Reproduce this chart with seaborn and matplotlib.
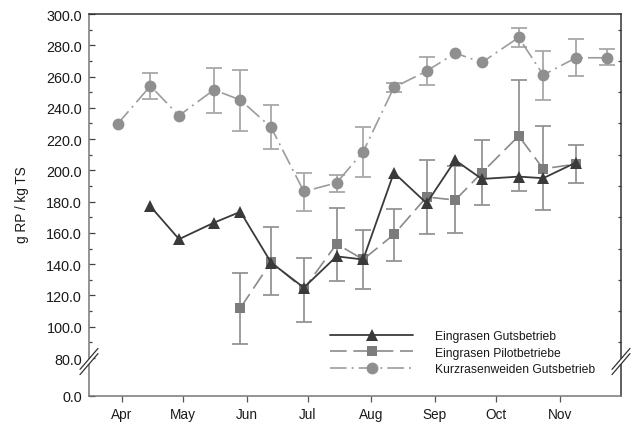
import numpy as np
import pandas as pd
import matplotlib
matplotlib.use("Agg")
import matplotlib.pyplot as plt
import matplotlib.dates as mdates
from matplotlib.ticker import FixedLocator, FuncFormatter
from matplotlib.patches import Polygon
from matplotlib.lines import Line2D
import seaborn as sns

# ---------------- data ----------------
year = "2005"
kurz_dates = ["03-30", "04-15", "04-29", "05-16", "05-29", "06-13", "06-29", "07-15",
              "07-28", "08-12", "08-28", "09-11", "09-24", "10-12", "10-24", "11-09", "11-24"]
kurz_vals = [229.7, 254.0, 235.0, 251.5, 245.0, 227.5, 186.5, 192.0,
             212.0, 253.0, 263.5, 275.0, 269.0, 285.0, 261.0, 272.0, 272.0]
kurz_hi = [np.nan, 262.3, np.nan, 265.7, 264.4, 241.6, 198.3, 197.2,
           227.9, 255.9, 272.7, np.nan, np.nan, 291.0, 276.3, 284.2, 277.4]
kurz_lo = [np.nan, 245.5, np.nan, 236.9, 225.4, 213.5, 174.0, 186.2,
           195.6, 249.9, 254.6, np.nan, np.nan, 279.1, 245.2, 260.2, 267.4]

guts_dates = ["04-15", "04-29", "05-16", "05-29", "06-13", "06-29", "07-15", "07-28",
              "08-12", "08-28", "09-11", "09-24", "10-12", "10-24", "11-09"]
guts_vals = [177.0, 156.0, 166.5, 173.5, 141.0, 125.0, 145.0, 143.0,
             198.5, 179.0, 206.5, 194.5, 196.0, 195.0, 205.0]

pilot_dates = ["05-29", "06-13", "06-29", "07-15", "07-28", "08-12", "08-28", "09-11",
               "09-24", "10-12", "10-24", "11-09"]
pilot_vals = [112.0, 141.5, 124.0, 153.0, 143.0, 159.0, 183.0, 181.0,
              198.5, 222.0, 201.0, 204.0]
pilot_hi = [134.4, 164.0, 143.8, 176.0, 161.7, 175.3, 206.8, 203.0,
            219.4, 257.8, 228.2, 216.2]
pilot_lo = [88.8, 120.0, 102.8, 129.3, 124.3, 141.8, 159.1, 160.0,
            177.8, 186.6, 174.6, 191.9]

labels = ["Eingrasen Gutsbetrieb", "Eingrasen Pilotbetriebe", "Kurzrasenweiden Gutsbetrieb"]
month_ticks = ["04-01", "05-01", "06-01", "07-01", "08-01", "09-01", "10-01", "11-01"]
y_major = [80, 100, 120, 140, 160, 180, 200, 220, 240, 260, 280, 300]
y_minor = [90, 110, 130, 150, 170, 190, 210, 230, 250, 270, 290]
y_break_bottom = 55.7   # position on the axis where "0.0" is shown (axis break)

def to_dt(lst):
    return pd.to_datetime([f"{year}-{d}" for d in lst])

# ---------------- style ----------------
sns.set_style("ticks")
plt.rcParams["font.family"] = ["Liberation Sans", "DejaVu Sans"]

W, H = 633, 427
fig = plt.figure(figsize=(W / 100, H / 100), dpi=100)
L, R, T, B = 89, 621, 15, 397
ax = fig.add_axes([L / W, 1 - B / H, (R - L) / W, (B - T) / H])

c_guts = "#3a3a3a"
c_pilot = "#7c7c7c"
c_pilot_line = "#8a8a8a"
c_kurz = "#8f8f8f"
c_kurz_line = "#9c9c9c"

# error bars first (behind)
kd, kv = to_dt(kurz_dates), np.array(kurz_vals)
ax.errorbar(kd, kv, yerr=[kv - np.array(kurz_lo), np.array(kurz_hi) - kv], fmt="none",
            ecolor="#a8a8a8", elinewidth=1.3, capsize=5.5, capthick=1.3, zorder=1)
pd_, pv = to_dt(pilot_dates), np.array(pilot_vals)
ax.errorbar(pd_, pv, yerr=[pv - np.array(pilot_lo), np.array(pilot_hi) - pv], fmt="none",
            ecolor="#949494", elinewidth=1.3, capsize=5.5, capthick=1.3, zorder=1)

sns.lineplot(x=to_dt(guts_dates), y=guts_vals, ax=ax, color=c_guts, linewidth=1.3,
             marker="^", markersize=8.5, markeredgewidth=0, markerfacecolor=c_guts,
             errorbar=None, label=labels[0], zorder=4)
sns.lineplot(x=pd_, y=pilot_vals, ax=ax, color=c_pilot_line, linewidth=1.2,
             linestyle=(0, (10, 4)), marker="s", markersize=7.5, markeredgewidth=0,
             markerfacecolor=c_pilot, errorbar=None, label=labels[1], zorder=3)
sns.lineplot(x=kd, y=kurz_vals, ax=ax, color=c_kurz_line, linewidth=1.2,
             linestyle=(0, (10, 3, 1.2, 3)), marker="o", markersize=8.5, markeredgewidth=0,
             markerfacecolor=c_kurz, errorbar=None, label=labels[2], zorder=2)

# ---------------- axes ----------------
ax.set_xlim(pd.Timestamp(f"{year}-03-16"), pd.Timestamp(f"{year}-12-01"))
ax.set_ylim(y_break_bottom, 300)
ax.xaxis.set_major_locator(FixedLocator(mdates.date2num(to_dt(month_ticks))))
ax.xaxis.set_major_formatter(mdates.DateFormatter("%b"))

ax.yaxis.set_major_locator(FixedLocator([y_break_bottom] + y_major))
ax.yaxis.set_minor_locator(FixedLocator(y_minor))
ax.yaxis.set_major_formatter(FuncFormatter(
    lambda v, p: "0.0" if abs(v - y_break_bottom) < 1e-6 else f"{v:.1f}"))

ax.set_xlabel("")
ax.set_ylabel("g RP / kg TS", fontsize=9.8, color="#1a1a1a")
ax.yaxis.set_label_coords(-0.112, 0.503)

for s in ["left", "bottom"]:
    ax.spines[s].set_color("#777777")
    ax.spines[s].set_linewidth(1.1)
for s in ["top", "right"]:
    ax.spines[s].set_visible(True)
    ax.spines[s].set_color("#333333")
    ax.spines[s].set_linewidth(1.1)

ax.tick_params(axis="y", which="major", direction="in", length=4.3, width=0.9,
               color="#444444", labelsize=10.4, labelcolor="#1a1a1a", pad=5, right=False)
ax.tick_params(axis="y", which="minor", direction="in", length=2.4, width=0.9,
               color="#444444", left=True, right=True)
ax.tick_params(axis="x", which="major", direction="out", length=4, width=0.9,
               color="#555555", labelsize=9.8, labelcolor="#1a1a1a", pad=4, top=False)

leg = ax.legend(loc="upper left", bbox_to_anchor=(0.453, 0.172), frameon=False,
                fontsize=8.7, handlelength=6.9, handletextpad=1.8, labelspacing=0.36,
                borderpad=0, borderaxespad=0, numpoints=1)
for t in leg.get_texts():
    t.set_color("#1a1a1a")

# ---------------- axis-break marks ----------------
inv = fig.transFigure.inverted()
def break_mark(xfrac):
    cx, cy = ax.transAxes.transform((xfrac, (B - 362.5) / (B - T)))
    dx, dy, sep = 9.0, 10.5, 2.6
    l1 = [(cx - dx, cy - dy + sep), (cx + dx, cy + dy + sep)]
    l2 = [(cx - dx, cy - dy - sep), (cx + dx, cy + dy - sep)]
    poly = [l1[0], l1[1], l2[1], l2[0]]
    fig.add_artist(Polygon([inv.transform(p) for p in poly], closed=True,
                           facecolor="white", edgecolor="none", zorder=10))
    for ln in (l1, l2):
        pts = inv.transform(ln)
        fig.add_artist(Line2D(pts[:, 0], pts[:, 1], color="#333333", lw=0.9, zorder=11))

break_mark(0.0)
break_mark(1.0)

fig.savefig("out.png", dpi=100)
